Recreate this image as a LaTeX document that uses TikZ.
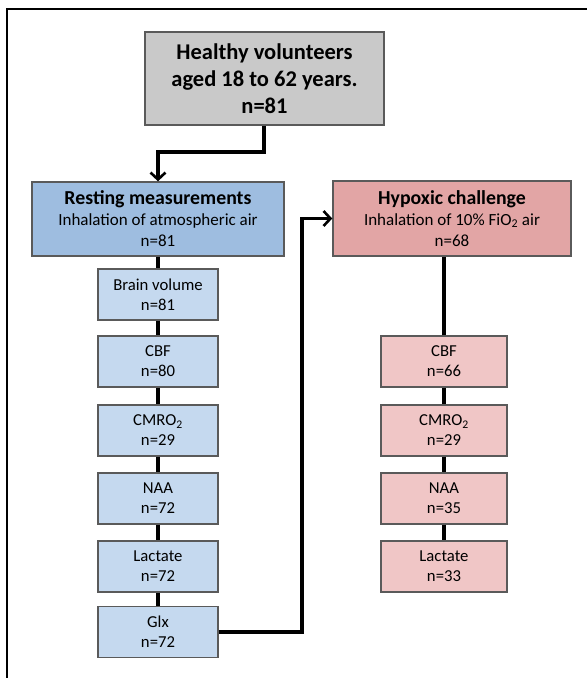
\documentclass[tikz,border=0pt]{standalone}
\usepackage{fontspec}
\setmainfont{Carlito}
\usetikzlibrary{arrows.meta, positioning}
\definecolor{topgray}{RGB}{201,201,201}
\definecolor{restblue}{RGB}{158,189,224}
\definecolor{restlight}{RGB}{197,217,239}
\definecolor{hypred}{RGB}{226,165,165}
\definecolor{hyplight}{RGB}{240,198,198}
\definecolor{boxline}{RGB}{90,90,90}

\begin{document}
\begin{tikzpicture}[
    x=1pt, y=-1pt,
    >={Straight Barb[length=7pt, width=15pt, line width=2.6pt]},
    every node/.style={font=\fontsize{16.7}{20}\selectfont},
    box/.style={draw=boxline, line width=1.4pt, align=center, inner sep=0pt},
    bigbox/.style={box, font=\fontsize{17}{21}\selectfont},
    smallbox/.style={box, minimum width=120pt, minimum height=51pt},
    link/.style={black, line width=3.2pt},
]
% page and partial frame (top and left only)
\useasboundingbox (0,0) rectangle (587,678);
\draw[line width=2.2pt] (7,678) -- (7,9) -- (587,9);
% participants
\node[box, fill=topgray, minimum width=239pt, minimum height=93pt,
      font=\fontsize{22.5}{27}\selectfont\bfseries] (vol) at (264.5,78.5)
    {Healthy volunteers\\aged 18 to 62 years.\\n=81};
% baseline and hypoxia blocks
\node[bigbox, fill=restblue, minimum width=252pt, minimum height=74pt] (rest) at (158,219)
    {{\fontsize{19.8}{21}\selectfont\bfseries Resting measurements}\\Inhalation of atmospheric air\\n=81};
\node[bigbox, fill=hypred, minimum width=238pt, minimum height=75pt] (hyp) at (452,218.5)
    {{\fontsize{19.8}{21}\selectfont\bfseries Hypoxic challenge}\\Inhalation of 10\% FiO\textsubscript{2} air\\n=68};
% resting measurements
\foreach \nm/\yy/\txt/\nn in {bvol/294.5/Brain volume/81, rcbf/361.5/CBF/80,
        rcmr/430.5/CMRO\textsubscript{2}/29, rnaa/498.5/NAA/72,
        rlac/566.5/Lactate/72, rglx/632/Glx/72}
    \node[smallbox, fill=restlight] (\nm) at (158,\yy) {\txt\\n=\nn};
% hypoxic measurements
\foreach \nm/\yy/\txt/\nn in {hcbf/361.5/CBF/66, hcmr/430.5/CMRO\textsubscript{2}/29,
        hnaa/498.5/NAA/35, hlac/566.5/Lactate/33}
    \node[smallbox, fill=hyplight, minimum width=126pt] (\nm) at (444,\yy) {\txt\\n=\nn};
% connectors
\draw[link, ->] (vol.south -| 264,0) -- (264,152) -| (rest.north);
\draw[link] (rest) -- (bvol);
\foreach \a/\b in {bvol/rcbf, rcbf/rcmr, rcmr/rnaa, rnaa/rlac, rlac/rglx}
    \draw[link] (\a) -- (\b);
\draw[link] (hcbf.north) -- (hcbf.north |- hyp.south);
\foreach \a/\b in {hcbf/hcmr, hcmr/hnaa, hnaa/hlac}
    \draw[link] (\a) -- (\b);
\coordinate (turn) at (302,632);
\draw[link, ->] (rglx.east) -- (turn) |- (hyp.west);
\end{tikzpicture}
\end{document}
